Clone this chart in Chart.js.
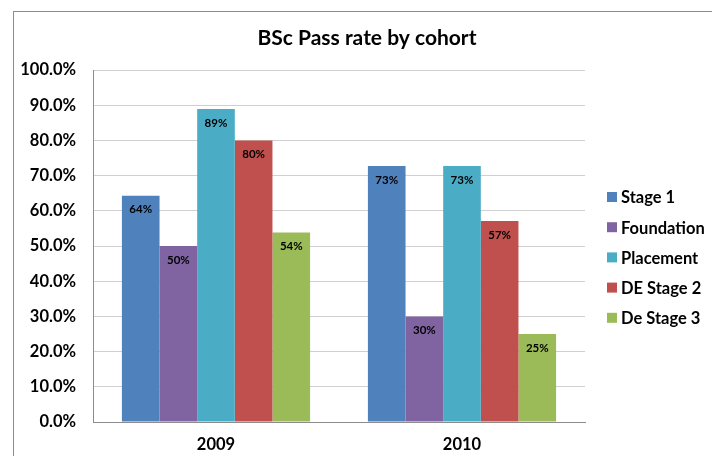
<!DOCTYPE html>
<html>
<head>
<meta charset="utf-8">
<script src="https://cdn.jsdelivr.net/npm/chart.js@4/dist/chart.umd.min.js"></script>
<style>
  html, body { margin: 0; padding: 0; background: #fff; }
  #wrap { position: relative; width: 712px; height: 456px; }
</style>
</head>
<body>
<div id="wrap"><canvas id="c" width="712" height="456"></canvas></div>
<script>
// Cohort pass rates (percent)
const cohorts = ['2009', '2010'];
const stage1     = [64.3, 72.7];
const foundation = [50.0, 30.0];
const placement  = [88.9, 72.7];
const deStage2   = [80.0, 57.1];
const deStage3   = [53.8, 25.0];
const seriesNames = ['Stage 1', 'Foundation', 'Placement', 'DE Stage 2', 'De Stage 3'];
const seriesColors = ['#4F81BD', '#8064A2', '#4BACC6', '#C0504D', '#9BBB59'];
const yTicks = [0, 10, 20, 30, 40, 50, 60, 70, 80, 90, 100];

const FONT = 'Lato, "Open Sans", sans-serif';
const seriesValues = [stage1, foundation, placement, deStage2, deStage3];

// Frame, title, legend and value labels
const decorations = {
  id: 'decorations',
  beforeDraw(chart) {
    const ctx = chart.ctx;
    ctx.save();
    ctx.fillStyle = '#fff';
    ctx.fillRect(0, 0, chart.width, chart.height);
    ctx.strokeStyle = '#8c8c8c';
    ctx.lineWidth = 1;
    ctx.strokeRect(13.5, 11.5, 760, 500);
    ctx.restore();
  },
  afterDraw(chart) {
    const ctx = chart.ctx;
    ctx.save();
    // title
    ctx.fillStyle = '#000';
    ctx.font = 'bold 21px ' + FONT;
    ctx.textAlign = 'center';
    ctx.textBaseline = 'middle';
    ctx.fillText('BSc Pass rate by cohort', 367, 38);

    // legend
    ctx.font = 'bold 16.5px ' + FONT;
    ctx.textAlign = 'left';
    chart.data.datasets.forEach((ds, i) => {
      const y = 197 + i * 30.2;
      ctx.fillStyle = ds.backgroundColor;
      ctx.fillRect(607, y - 5, 10, 10);
      ctx.fillStyle = '#000';
      ctx.fillText(ds.label, 621, y + 1);
    });

    // value labels inside bar tops
    ctx.font = 'bold 11.5px ' + FONT;
    ctx.textAlign = 'center';
    chart.data.datasets.forEach((ds, i) => {
      const meta = chart.getDatasetMeta(i);
      meta.data.forEach((bar, j) => {
        ctx.fillStyle = '#000';
        ctx.fillText(Math.round(ds.data[j]) + '%', bar.x, bar.y + 14);
      });
    });
    ctx.restore();
  }
};

new Chart(document.getElementById('c'), {
  type: 'bar',
  data: {
    labels: cohorts,
    datasets: seriesNames.map((name, i) => ({
      label: name,
      data: seriesValues[i],
      backgroundColor: seriesColors[i],
      borderWidth: 0,
      barPercentage: 1.0,
      categoryPercentage: 0.765
    }))
  },
  options: {
    responsive: false,
    animation: false,
    devicePixelRatio: 1,
    layout: { padding: { left: 0, top: 70, right: 127, bottom: 0 } },
    plugins: {
      legend: { display: false },
      title: { display: false },
      tooltip: { enabled: false }
    },
    scales: {
      x: {
        afterFit(scale) { scale.height = 34; },
        grid: { display: false, drawTicks: false },
        border: { color: '#8c8c8c', width: 1 },
        ticks: {
          padding: 13,
          color: '#000',
          font: { family: FONT, size: 16.5, weight: 'bold' }
        }
      },
      y: {
        min: 0,
        max: 100,
        afterFit(scale) { scale.width = 93; },
        afterBuildTicks(scale) { scale.ticks = yTicks.map(v => ({ value: v })); },
        grid: { color: '#d0d0d0', drawTicks: false },
        border: { color: '#8c8c8c', width: 1 },
        ticks: {
          padding: 17,
          color: '#000',
          font: { family: FONT, size: 16.5, weight: 'bold' },
          callback: v => v.toFixed(1) + '%'
        }
      }
    }
  },
  plugins: [decorations]
});
</script>
</body>
</html>
